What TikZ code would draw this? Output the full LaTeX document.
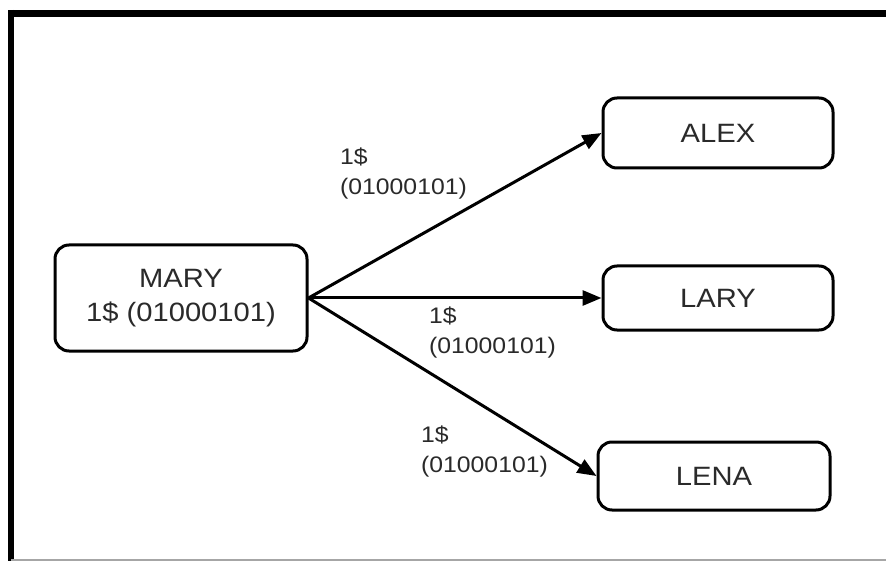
\documentclass[tikz,border=0pt]{standalone}
\usepackage{fontspec}
\setmainfont[FakeStretch=1.1]{Liberation Sans}
\usetikzlibrary{arrows.meta}
\definecolor{txt}{HTML}{2a2a2a}
\begin{document}
\begin{tikzpicture}[x={(1pt,0)},y={(0,-1pt)},
  box/.style={draw=black,line width=3pt,rounded corners=14pt,fill=white,
    inner sep=0pt,align=center,text=txt,font=\fontsize{26.5}{34}\selectfont},
  lbl/.style={inner sep=0pt,anchor=west,align=left,text=txt,font=\fontsize{22.5}{30}\selectfont},
  conn/.style={line width=3pt,-{Triangle[length=19pt,width=15pt]}}]
\useasboundingbox (0,0) rectangle (886,561);
\fill[white] (0,0) rectangle (886,561);
% frame
\draw[line width=7pt] (8,13.5) -- (886,13.5);
\draw[line width=6pt] (11,10) -- (11,561);
\draw[line width=2pt,black!35] (11,560) -- (886,560);
% nodes
\node[box,minimum width=252pt,minimum height=106pt] (mary) at (181,298) {MARY\\1\$ (01000101)};
\node[box,minimum width=230pt,minimum height=70pt] (alex) at (718,133) {ALEX};
\node[box,minimum width=230pt,minimum height=64pt] (lary) at (718,298) {LARY};
\node[box,minimum width=232pt,minimum height=68pt] (lena) at (714,476) {LENA};
% connectors
\draw[conn] (mary.east) -- (alex.west);
\draw[conn] (mary.east) -- (lary.west);
\draw[conn] (mary.east) -- (lena.west);
% labels
\node[lbl] (l1) at (340,174) {1\$\\(01000101)};
\node[lbl] (l2) at (429,333) {1\$\\(01000101)};
\node[lbl] (l3) at (421,451) {1\$\\(01000101)};
\end{tikzpicture}
\end{document}
